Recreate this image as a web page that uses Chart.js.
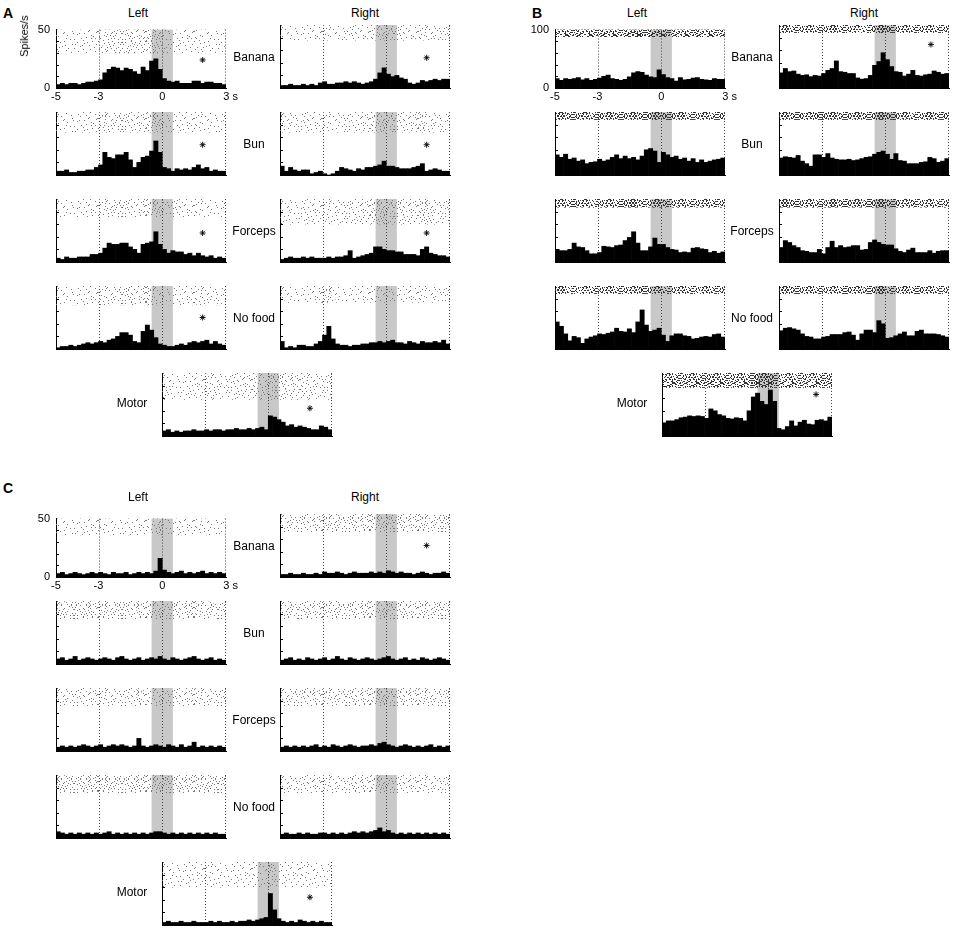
<!DOCTYPE html>
<html>
<head>
<meta charset="utf-8">
<script src="https://cdn.jsdelivr.net/npm/chart.js@4.4.1/dist/chart.umd.min.js"></script>
<style>
  body { margin: 0; background: #fff; font-family: Arial, "Liberation Sans", Helvetica, sans-serif; }
  #fig { position: relative; width: 959px; height: 930px; overflow: hidden; background: #fff; }
  #fig canvas { position: absolute; }
  .lbl { position: absolute; font-size: 12px; color: #000; white-space: nowrap; transform: translate(-50%, -50%); }
  .pan { position: absolute; font-size: 14px; font-weight: bold; transform: translate(-50%, -50%); }
  .ylab { position: absolute; font-size: 11px; white-space: nowrap; transform: translate(-50%, -50%) rotate(-90deg); }
</style>
</head>
<body>
<div id="fig"></div>
<script>
// bins de 0.2 s, de -5 à 3 s
const timeBins = [-4.9, -4.7, -4.5, -4.3, -4.1, -3.9, -3.7, -3.5, -3.3, -3.1,
                  -2.9, -2.7, -2.5, -2.3, -2.1, -1.9, -1.7, -1.5, -1.3, -1.1,
                  -0.9, -0.7, -0.5, -0.3, -0.1, 0.1, 0.3, 0.5, 0.7, 0.9,
                  1.1, 1.3, 1.5, 1.7, 1.9, 2.1, 2.3, 2.5, 2.7, 2.9];
const timeTicks = [-5, -3, 0, 3];
const cueTimes = [-3, 0, 3];
const windowStart = -0.5;
const windowEnd = 0.5;
const rowNames = ['Banana', 'Bun', 'Forceps', 'No food'];
const sideNames = ['Left', 'Right'];

// Panel A (spikes/s)
const rateTicksA = [0, 50];
const rateA_BananaLeft   = [3,4,3,4,4,3,4,5,5,6, 7,13,16,18,17,15,17,16,14,12, 18,15,23,25,16,8,6,5,6,4, 4,4,6,6,4,5,5,4,4,3];
const rateA_BananaRight  = [2,2,3,2,2,3,2,3,2,4, 5,3,3,4,4,5,4,5,4,3, 4,5,7,12,16,11,9,10,8,7, 4,3,4,6,5,6,7,6,7,7];
const rateA_BunLeft      = [3,3,4,2,2,3,3,4,4,6, 8,18,14,13,16,16,18,12,6,10, 14,15,19,27,18,6,5,3,5,4, 5,4,6,8,5,6,3,4,3,3];
const rateA_BunRight     = [7,3,6,4,3,4,4,1,2,3, 1,0,1,3,6,5,4,3,5,4, 6,6,7,8,11,7,7,6,5,5, 5,6,7,9,3,4,5,4,3,3];
const rateA_ForcepsLeft  = [3,2,4,3,3,4,4,4,6,6, 7,11,15,14,14,15,15,12,10,7, 14,15,16,24,14,10,7,9,8,8, 6,7,5,7,5,4,5,3,4,3];
const rateA_ForcepsRight = [2,3,4,3,3,4,3,4,3,3, 3,4,3,4,4,5,9,3,4,5, 6,7,12,12,10,9,9,8,8,6, 6,6,5,10,12,7,6,5,5,4];
const rateA_NoFoodLeft   = [1,2,2,3,2,3,4,5,4,5, 6,5,7,8,10,13,13,11,6,5, 14,19,15,9,4,3,2,2,3,4, 3,5,6,5,6,7,4,6,4,3];
const rateA_NoFoodRight  = [6,1,2,1,3,3,2,2,4,6, 11,18,8,4,3,3,2,3,3,4, 4,5,5,6,5,6,7,5,5,4, 6,5,4,6,5,5,6,5,7,4];
const rateA_Motor        = [4,5,3,4,3,4,4,5,4,4, 5,4,5,5,4,5,5,6,5,5, 6,5,6,7,5,16,15,13,11,8, 9,7,8,7,6,5,5,8,7,5];
const rasterFloorA = [30, 38, 34, 34, 36, 30, 35, 37, 29];
const starsA = [[1.9, 24], [1.9, 24], [1.9, 24], [1.9, 24], [1.9, 23], [1.9, 23], [1.9, 25], null, [1.96, 22]];

// Panel B
const rateTicksB = [0, 100];
const rateB_BananaLeft   = [16,13,16,15,16,18,14,16,13,15, 17,20,22,16,15,13,15,19,26,28, 27,22,19,18,31,23,18,16,12,18, 14,15,17,18,15,14,13,16,15,15];
const rateB_BananaRight  = [24,31,26,27,22,20,21,18,20,19, 23,28,31,43,26,25,23,23,16,14, 15,20,36,42,56,45,34,26,25,19, 22,28,20,19,21,22,27,25,22,23];
const rateB_BunLeft      = [32,28,33,25,27,22,24,18,20,21, 25,22,24,28,32,26,30,26,28,24, 30,40,42,38,20,36,32,28,30,25, 27,22,26,20,24,20,22,24,25,27];
const rateB_BunRight     = [27,29,28,27,31,22,18,14,32,32, 28,34,27,25,24,24,25,23,24,26, 28,29,33,36,38,33,25,34,23,22, 18,18,18,20,21,28,26,20,22,26];
const rateB_ForcepsLeft  = [20,18,18,20,30,24,23,18,13,13, 15,25,24,23,26,27,34,39,48,30, 18,18,24,38,28,28,23,20,19,15, 16,15,22,23,21,20,15,17,14,16];
const rateB_ForcepsRight = [23,34,31,26,23,18,17,15,15,20, 13,23,33,23,26,23,24,26,26,19, 20,31,35,31,28,27,27,21,17,15, 19,22,15,15,15,18,14,17,18,18];
const rateB_NoFoodLeft   = [43,36,24,13,20,18,9,16,19,21, 24,23,25,27,33,28,27,32,26,43, 62,38,28,30,33,22,12,21,24,24, 21,20,16,17,19,20,19,23,24,19];
const rateB_NoFoodRight  = [29,33,34,32,30,24,20,19,16,16, 19,20,23,23,23,26,27,22,14,24, 30,30,26,45,40,17,18,21,24,27, 21,21,28,30,24,24,24,23,21,19];
const rateB_Motor        = [21,24,24,26,29,30,32,31,32,31, 28,43,40,34,32,28,27,29,28,24, 40,62,68,55,50,73,55,12,10,15, 24,16,22,25,19,18,25,26,24,30];
const rasterFloorB = [88, 88, 88, 88, 87, 87, 88, 88, 77];
const starsB = [null, [2.15, 69], null, null, null, null, null, null, [2.25, 66]];

// Panel C
const rateTicksC = [0, 50];
const rateC_BananaLeft   = [3,4,2,3,4,3,2,3,4,3, 4,3,2,4,3,3,4,2,3,4, 3,4,3,5,16,6,4,3,4,5, 3,4,3,4,5,3,4,3,4,3];
const rateC_BananaRight  = [2,2,3,2,2,3,2,2,3,2, 4,3,3,4,3,2,3,4,3,3, 3,4,3,4,3,5,4,3,4,3, 3,2,3,4,3,2,3,3,4,3];
const rateC_BunLeft      = [4,5,3,4,6,3,4,5,4,3, 4,5,4,3,5,6,4,3,4,5, 3,4,5,4,6,4,3,5,4,3, 4,5,6,4,3,4,5,3,4,3];
const rateC_BunRight     = [3,4,5,3,4,3,5,4,3,4, 5,3,4,6,4,3,5,4,3,4, 5,4,3,4,5,6,4,3,4,5, 3,4,3,5,4,3,4,5,4,3];
const rateC_ForcepsLeft  = [3,4,3,4,3,4,5,4,3,4, 5,3,4,5,4,5,4,3,4,10, 4,3,4,5,4,3,5,4,3,5, 3,4,7,3,4,3,4,3,4,3];
const rateC_ForcepsRight = [3,4,3,4,3,4,3,4,5,3, 4,3,5,4,3,4,5,4,3,4, 4,5,4,6,7,5,4,3,4,5, 4,3,4,3,4,5,3,4,3,4];
const rateC_NoFoodLeft   = [5,4,3,4,3,4,3,4,3,4, 3,4,5,3,4,3,4,3,4,3, 4,3,4,5,5,4,3,4,3,4, 3,4,3,4,3,4,3,4,3,3];
const rateC_NoFoodRight  = [3,4,3,3,4,3,4,3,3,4, 4,3,4,3,4,3,4,5,4,5, 4,5,6,8,5,6,4,3,4,3, 4,3,4,3,4,3,4,3,4,3];
const rateC_Motor        = [2,3,2,2,3,2,2,3,2,2, 2,3,2,3,2,2,3,2,3,3, 4,3,4,5,6,25,12,5,3,2, 3,2,4,3,2,3,2,3,2,2];
const rasterFloorC = [36, 36, 36, 36, 36, 36, 36, 36, 30];
const starsC = [null, [1.9, 25], null, null, null, null, null, null, [1.96, 22]];

// mise en page (pixels)
const BOX_W = 170, BOX_H = 63, ROW_STEP = 87;
const PAD_L = 30, PAD_T = 8, PAD_R = 16, PAD_B = 18;
const layout = {
  A: { left: 56, right: 280, motor: 162, top: 25, rowLabelX: 254, motorLabelX: 132, letter: [8, 13], headY: 13 },
  B: { left: 555, right: 779, motor: 662, top: 25, rowLabelX: 752, motorLabelX: 632, letter: [537, 13], headY: 13 },
  C: { left: 56, right: 280, motor: 162, top: 514, rowLabelX: 254, motorLabelX: 132, letter: [8, 488], headY: 497 }
};

const panels = {
  A: { ticks: rateTicksA, floors: rasterFloorA, stars: starsA, dense: false,
       rates: [rateA_BananaLeft, rateA_BananaRight, rateA_BunLeft, rateA_BunRight, rateA_ForcepsLeft,
               rateA_ForcepsRight, rateA_NoFoodLeft, rateA_NoFoodRight, rateA_Motor] },
  B: { ticks: rateTicksB, floors: rasterFloorB, stars: starsB, dense: true,
       rates: [rateB_BananaLeft, rateB_BananaRight, rateB_BunLeft, rateB_BunRight, rateB_ForcepsLeft,
               rateB_ForcepsRight, rateB_NoFoodLeft, rateB_NoFoodRight, rateB_Motor] },
  C: { ticks: rateTicksC, floors: rasterFloorC, stars: starsC, dense: false,
       rates: [rateC_BananaLeft, rateC_BananaRight, rateC_BunLeft, rateC_BunRight, rateC_ForcepsLeft,
               rateC_ForcepsRight, rateC_NoFoodLeft, rateC_NoFoodRight, rateC_Motor] }
};

const FONT = 'Arial, "Liberation Sans", Helvetica, sans-serif';
Chart.defaults.font.family = FONT;
Chart.defaults.color = '#000';

// texture des rasters (points fixes, pas de hasard)
const dotSpots = [[3,1],[15,4],[9,8],[21,10],[6,5],[18,0],[12,11],[0,7],[22,3],[10,2],
                  [4,10],[16,8],[8,4],[20,6],[13,1],[1,3],[19,11],[7,9],[14,6],[23,0],
                  [2,11],[11,5],[17,2],[5,7],[22,8],[9,0],[15,10],[0,1],[12,3],[19,4],
                  [6,11],[14,9],[3,6],[21,2],[10,7],[17,5],[7,2],[23,9],[1,9],[16,11]];

// tuile 2x2 quadrants, chaque quadrant décalé dans la liste et retourné
function dotPattern(count, qw, qh, colour) {
  const c = document.createElement('canvas');
  c.width = qw * 2; c.height = qh * 2;
  const g = c.getContext('2d');
  g.fillStyle = colour;
  for (let q = 0; q < 4; q++) {
    const flipX = q % 2 === 1, flipY = q > 1;
    for (let i = 0; i < count; i++) {
      const [sx, sy] = dotSpots[(i + q * 11) % dotSpots.length];
      let x = sx % qw, y = sy % qh;
      if (flipX) x = qw - 1 - x;
      if (flipY) y = qh - 1 - y;
      g.fillRect(x + (q % 2) * qw, y + (q > 1 ? qh : 0), 1, 1);
    }
  }
  return g.createPattern(c, 'repeat');
}

const lightInk = [16, 23, 31, 40].map(n => dotPattern(n, 24, 12, '#777777'));
const denseInk = [20, 26, 33, 40].map(n => dotPattern(n, 12, 6, '#333333'));

function inkTier(v, max) {
  const r = v / max;
  if (r < 0.3) return 0;
  if (r < 0.55) return 1;
  if (r < 0.8) return 2;
  return 3;
}

// bande grise, pointillés et petits ticks internes
const framePlugin = {
  id: 'frame',
  beforeDatasetsDraw(chart) {
    const { ctx, chartArea: a, scales: { x, y } } = chart;
    ctx.save();
    const x0 = x.getPixelForValue(windowStart);
    const x1 = x.getPixelForValue(windowEnd);
    ctx.fillStyle = '#c8c8c8';
    ctx.fillRect(x0, a.top, x1 - x0, a.bottom - a.top);

    ctx.strokeStyle = '#444';
    ctx.lineWidth = 1;
    ctx.setLineDash([1, 2]);
    cueTimes.forEach(t => {
      let px = Math.round(x.getPixelForValue(t)) + 0.5;
      if (px > a.right) px = a.right - 0.5;
      ctx.beginPath();
      ctx.moveTo(px, a.top);
      ctx.lineTo(px, a.bottom);
      ctx.stroke();
    });
    ctx.setLineDash([]);

    const step = y.max / 5;
    ctx.strokeStyle = '#000';
    for (let v = step; v < y.max; v += step) {
      const py = Math.round(y.getPixelForValue(v)) + 0.5;
      ctx.beginPath();
      ctx.moveTo(a.left, py);
      ctx.lineTo(a.left + 3, py);
      ctx.stroke();
    }
    ctx.restore();
  }
};

const fig = document.getElementById('fig');

function addText(str, x, y, cls) {
  const d = document.createElement('div');
  d.className = cls || 'lbl';
  d.textContent = str;
  d.style.left = x + 'px';
  d.style.top = y + 'px';
  fig.appendChild(d);
}

function addPlot(panelKey, idx) {
  const P = panels[panelKey];
  const L = layout[panelKey];
  const rates = P.rates[idx];
  const floor = P.floors[idx];
  const star = P.stars[idx];
  const yMax = P.ticks[P.ticks.length - 1];
  const isMotor = idx === 8;
  const row = isMotor ? 4 : Math.floor(idx / 2);
  const boxLeft = isMotor ? L.motor : (idx % 2 === 0 ? L.left : L.right);
  const boxTop = L.top + row * ROW_STEP;
  const showTicks = idx === 0;
  const maxRate = Math.max(...rates);
  const ink = P.dense ? denseInk : lightInk;

  const cv = document.createElement('canvas');
  cv.width = BOX_W + PAD_L + PAD_R;
  cv.height = BOX_H + PAD_T + PAD_B;
  cv.style.left = (boxLeft - PAD_L) + 'px';
  cv.style.top = (boxTop - PAD_T) + 'px';
  fig.appendChild(cv);

  new Chart(cv, {
    type: 'bar',
    data: {
      datasets: [
        {
          type: 'scatter',
          data: star ? [{ x: star[0], y: star[1] }] : [],
          pointStyle: 'star',
          radius: 3,
          borderColor: '#000',
          backgroundColor: '#000',
          borderWidth: 0.9,
          order: 0
        },
        {
          data: timeBins.map((t, i) => ({ x: t, y: rates[i] })),
          backgroundColor: '#000',
          order: 1
        },
        {
          data: timeBins.map(t => ({ x: t, y: [floor, yMax] })),
          backgroundColor: c => {
            const i = c.dataIndex;
            if (i === undefined) return ink[1];
            return ink[inkTier(rates[i], maxRate)];
          },
          order: 2
        }
      ]
    },
    options: {
      responsive: false,
      animation: false,
      devicePixelRatio: 1,
      layout: { padding: { top: PAD_T, right: PAD_R, left: 0, bottom: 0 } },
      datasets: { bar: { grouped: false, barPercentage: 1, categoryPercentage: 1, borderWidth: 0 } },
      plugins: { legend: { display: false }, tooltip: { enabled: false } },
      scales: {
        x: {
          type: 'linear', min: -5, max: 3, offset: false,
          grid: { display: false, drawTicks: false, tickLength: 0 },
          border: { display: true, color: '#000', width: 1 },
          ticks: {
            display: showTicks, font: { size: 11 }, padding: 2, maxRotation: 0, autoSkip: false,
            callback: v => (v === 3 ? '   3 s' : String(v))
          },
          afterBuildTicks: s => { s.ticks = timeTicks.map(v => ({ value: v })); },
          afterFit: s => { s.height = PAD_B; }
        },
        y: {
          type: 'linear', min: 0, max: yMax,
          grid: { display: false, drawTicks: false, tickLength: 0 },
          border: { display: true, color: '#000', width: 1 },
          ticks: { display: showTicks, font: { size: 11 }, padding: 6 },
          afterBuildTicks: s => { s.ticks = P.ticks.map(v => ({ value: v })); },
          afterFit: s => { s.width = PAD_L; }
        }
      }
    },
    plugins: [framePlugin]
  });

  if (!isMotor && idx % 2 === 0) addText(rowNames[row], L.rowLabelX, boxTop + BOX_H / 2);
  if (isMotor) addText('Motor', L.motorLabelX, boxTop + BOX_H / 2 - 2);
}

Object.keys(panels).forEach(k => {
  const L = layout[k];
  addText(k, L.letter[0], L.letter[1], 'pan');
  addText(sideNames[0], L.left + BOX_W / 2 - 3, L.headY);
  addText(sideNames[1], L.right + BOX_W / 2, L.headY);
  for (let i = 0; i < 9; i++) addPlot(k, i);
});
addText('Spikes/s', 24, 36, 'ylab');
</script>
</body>
</html>
